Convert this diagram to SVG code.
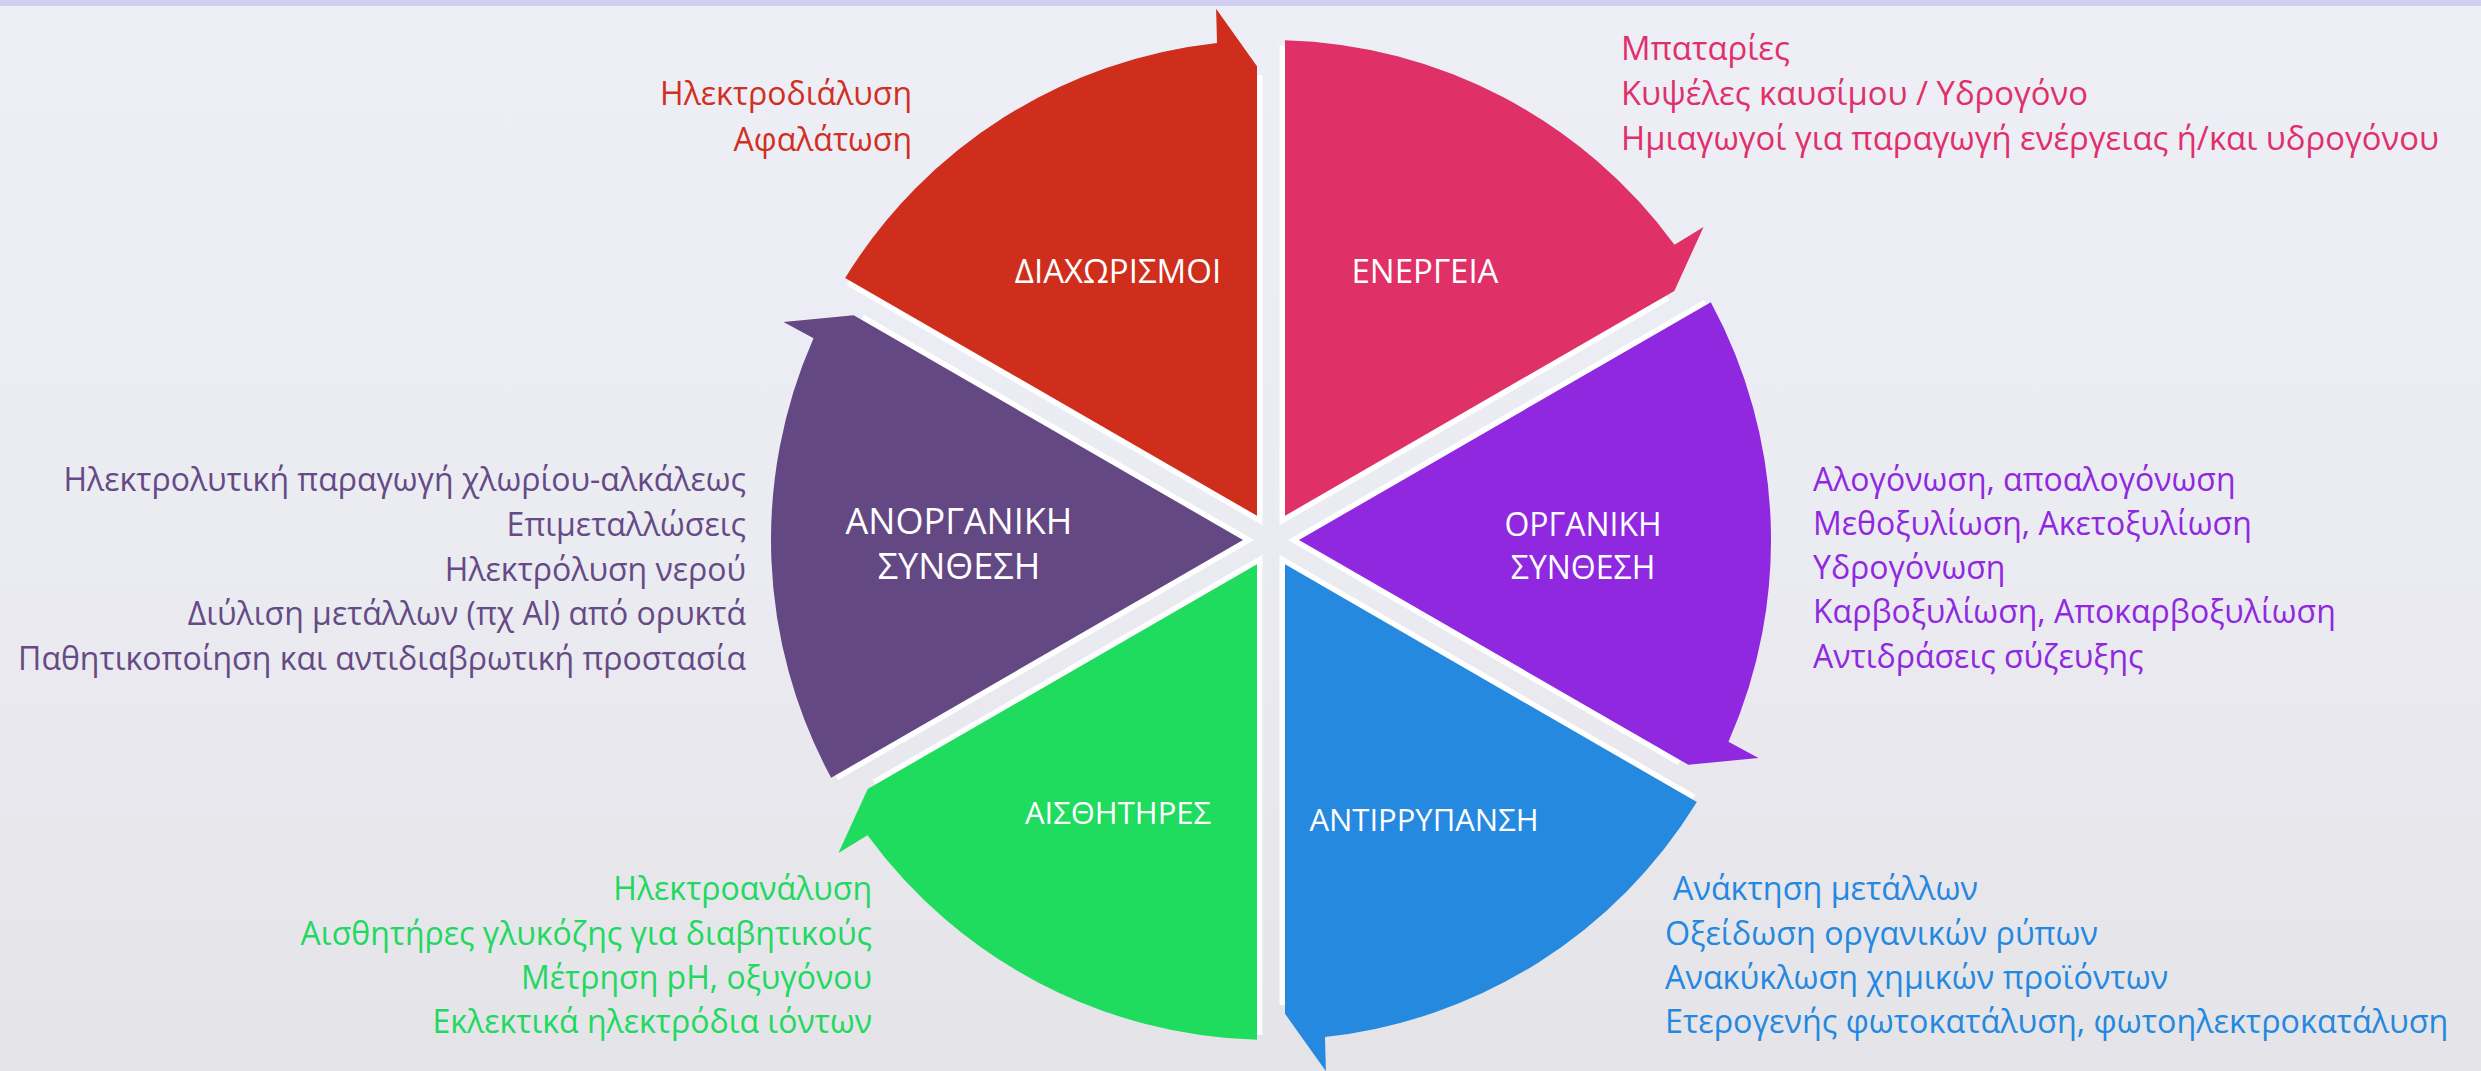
<svg xmlns="http://www.w3.org/2000/svg" xmlns:xlink="http://www.w3.org/1999/xlink" width="2481" height="1071" viewBox="0 0 2481 1071">
  <style>
    .lbl { font-family: "Open Sans", "Noto Sans", "DejaVu Sans", sans-serif; fill: #ffffff; text-anchor: middle; font-size: 31px; }
    .lst { font-family: "Open Sans", "Noto Sans", "DejaVu Sans", sans-serif; font-size: 32px; }
    .end { text-anchor: end; }
    .edge { fill: none; stroke: #ffffff; stroke-width: 5.5; stroke-linejoin: miter; }
  </style>
  <defs>
    <linearGradient id="bg" x1="0" y1="0" x2="0" y2="1">
      <stop offset="0" stop-color="#EEEEF7"/>
      <stop offset="0.5" stop-color="#EBEBF2"/>
      <stop offset="1" stop-color="#E4E4E8"/>
    </linearGradient>
    <path id="seg" d="M -14,-24.25 L -425.84,-262.02 A 500 500 0 0 1 -54.00,-497.08 L -54.89,-531.17 L -14,-473.79 Z"/>
    <path id="segEdge" d="M -422.9,-257.2 L -11.25,-19.49 L -11.25,-465"/>
  </defs>

  <rect x="0" y="0" width="2481" height="1071" fill="url(#bg)"/>
  <rect x="0" y="0" width="2481" height="6" fill="#D0D0F2"/>

  <g id="node-diaxorismoi">
    <g transform="translate(1271,540)">
      <use xlink:href="#segEdge" class="edge"/>
      <use xlink:href="#seg" fill="#CF2E1D"/>
    </g>
    <text class="lbl" x="1118" y="283" style="font-size:33px">ΔΙΑΧΩΡΙΣΜΟΙ</text>
    <g class="lst end" fill="#D0301F">
      <text x="912" y="105">Ηλεκτροδιάλυση</text>
      <text x="912" y="151">Αφαλάτωση</text>
    </g>
  </g>

  <g id="node-energeia">
    <g transform="translate(1271,540) rotate(60)">
      <use xlink:href="#segEdge" class="edge"/>
      <use xlink:href="#seg" fill="#E03068"/>
    </g>
    <text class="lbl" x="1425" y="283" style="font-size:33px">ΕΝΕΡΓΕΙΑ</text>
    <g class="lst" fill="#E0306A" style="font-size:32.8px">
      <text x="1621" y="60">Μπαταρίες</text>
      <text x="1621" y="105">Κυψέλες καυσίμου / Υδρογόνο</text>
      <text x="1621" y="150">Ημιαγωγοί για παραγωγή ενέργειας ή/και υδρογόνου</text>
    </g>
  </g>

  <g id="node-organiki">
    <g transform="translate(1271,540) rotate(120)">
      <use xlink:href="#segEdge" class="edge"/>
      <use xlink:href="#seg" fill="#9028DF"/>
    </g>
    <text class="lbl" x="1583" y="536" style="font-size:32px">ΟΡΓΑΝΙΚΗ</text>
    <text class="lbl" x="1583" y="579" style="font-size:32px">ΣΥΝΘΕΣΗ</text>
    <g class="lst" fill="#9028E0">
      <text x="1813" y="491">Αλογόνωση, αποαλογόνωση</text>
      <text x="1813" y="535">Μεθοξυλίωση, Ακετοξυλίωση</text>
      <text x="1813" y="579">Υδρογόνωση</text>
      <text x="1813" y="623">Καρβοξυλίωση, Αποκαρβοξυλίωση</text>
      <text x="1813" y="668">Αντιδράσεις σύζευξης</text>
    </g>
  </g>

  <g id="node-antirrypansi">
    <g transform="translate(1271,540) rotate(180)">
      <use xlink:href="#segEdge" class="edge"/>
      <use xlink:href="#seg" fill="#2589DF"/>
    </g>
    <text class="lbl" x="1424" y="831">ΑΝΤΙΡΡΥΠΑΝΣΗ</text>
    <g class="lst" fill="#2588E0" style="font-size:32.3px">
      <text x="1673" y="900">Ανάκτηση μετάλλων</text>
      <text x="1665" y="945">Οξείδωση οργανικών ρύπων</text>
      <text x="1665" y="989">Ανακύκλωση χημικών προϊόντων</text>
      <text x="1665" y="1033">Ετερογενής φωτοκατάλυση, φωτοηλεκτροκατάλυση</text>
    </g>
  </g>

  <g id="node-aisthitires">
    <g transform="translate(1271,540) rotate(240)">
      <use xlink:href="#segEdge" class="edge"/>
      <use xlink:href="#seg" fill="#20DC5E"/>
    </g>
    <text class="lbl" x="1118" y="824">ΑΙΣΘΗΤΗΡΕΣ</text>
    <g class="lst end" fill="#22D860">
      <text x="872" y="900">Ηλεκτροανάλυση</text>
      <text x="872" y="945">Αισθητήρες γλυκόζης για διαβητικούς</text>
      <text x="872" y="989">Μέτρηση pH, οξυγόνου</text>
      <text x="872" y="1033">Εκλεκτικά ηλεκτρόδια ιόντων</text>
    </g>
  </g>

  <g id="node-anorganiki">
    <g transform="translate(1271,540) rotate(300)">
      <use xlink:href="#segEdge" class="edge"/>
      <use xlink:href="#seg" fill="#644884"/>
    </g>
    <text class="lbl" x="959" y="534" style="font-size:36px">ΑΝΟΡΓΑΝΙΚΗ</text>
    <text class="lbl" x="959" y="579" style="font-size:36px">ΣΥΝΘΕΣΗ</text>
    <g class="lst end" fill="#654A85">
      <text x="746" y="491">Ηλεκτρολυτική παραγωγή χλωρίου-αλκάλεως</text>
      <text x="746" y="536">Επιμεταλλώσεις</text>
      <text x="746" y="581">Ηλεκτρόλυση νερού</text>
      <text x="746" y="625">Διύλιση μετάλλων (πχ Al) από ορυκτά</text>
      <text x="746" y="670">Παθητικοποίηση και αντιδιαβρωτική προστασία</text>
    </g>
  </g>

  <g id="connectors"/>
</svg>
